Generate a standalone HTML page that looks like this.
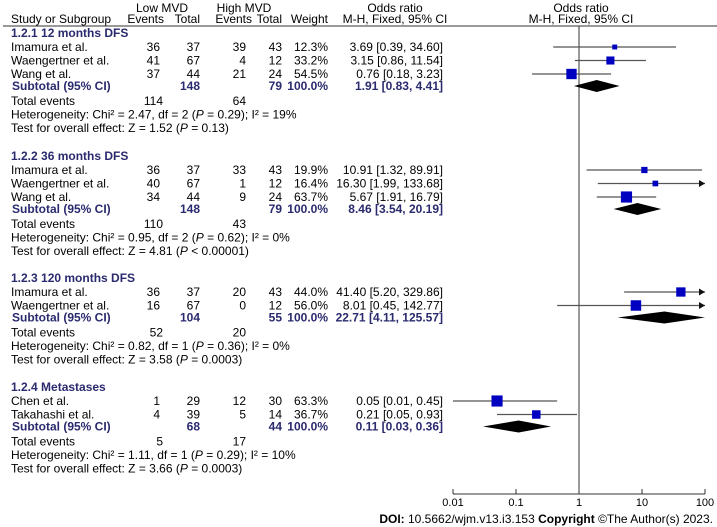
<!DOCTYPE html>
<html><head><meta charset="utf-8"><style>
body{margin:0;background:#fff;}
svg{display:block;font-family:"Liberation Sans",Arial,sans-serif;font-size:12px;}
.h{fill:#2a2a6e;font-weight:bold;}
.t{fill:#222;}
</style></head><body>
<svg id="fp" width="717" height="527" viewBox="0 0 717 527">
<g>
<text x="162" y="12" text-anchor="middle">Low MVD</text>
<text x="244" y="12" text-anchor="middle">High MVD</text>
<text x="395" y="12" text-anchor="middle">Odds ratio</text>
<text x="581" y="12" text-anchor="middle">Odds ratio</text>
<text x="11" y="23">Study or Subgroup</text>
<text x="164" y="23" text-anchor="end">Events</text>
<text x="200" y="23" text-anchor="end">Total</text>
<text x="252" y="23" text-anchor="end">Events</text>
<text x="282" y="23" text-anchor="end">Total</text>
<text x="328" y="23" text-anchor="end">Weight</text>
<text x="395" y="23" text-anchor="middle">M-H, Fixed, 95% CI</text>
<text x="581" y="23" text-anchor="middle">M-H, Fixed, 95% CI</text>
<line x1="3" y1="26" x2="717" y2="26" stroke="#333" stroke-width="1"/>
</g>
<line x1="579" y1="26" x2="579" y2="494" stroke="#333" stroke-width="1"/>
<g id="rows"></g>
<g id="axis"></g>
<text x="713" y="523" text-anchor="end"><tspan font-weight="bold">DOI:</tspan> 10.5662/wjm.v13.i3.153 <tspan font-weight="bold">Copyright</tspan> ©The Author(s) 2023.</text>
</svg>
<script>
const groupTitles=["1.2.1 12 months DFS","1.2.2 36 months DFS","1.2.3 120 months DFS","1.2.4 Metastases"];
const groupY=[33,156,278,387];
const studyNames=[["Imamura et al.","Waengertner et al.","Wang et al."],["Imamura et al.","Waengertner et al.","Wang et al."],["Imamura et al.","Waengertner et al."],["Chen et al.","Takahashi et al."]];
const lowEvents=[[36,41,37],[36,40,34],[36,16],[1,4]];
const lowTotal=[[37,67,44],[37,67,44],[37,67],[29,39]];
const highEvents=[[39,4,21],[33,1,9],[20,0],[12,5]];
const highTotal=[[43,12,24],[43,12,24],[43,12],[30,14]];
const weights=[[12.3,33.2,54.5],[19.9,16.4,63.7],[44.0,56.0],[63.3,36.7]];
const orVal=[[3.69,3.15,0.76],[10.91,16.30,5.67],[41.40,8.01],[0.05,0.21]];
const orLo=[[0.39,0.86,0.18],[1.32,1.99,1.91],[5.20,0.45],[0.01,0.05]];
const orHi=[[34.60,11.54,3.23],[89.91,133.68,16.79],[329.86,142.77],[0.45,0.93]];
const subLowTotal=[148,148,104,68];
const subHighTotal=[79,79,55,44];
const subOR=[1.91,8.46,22.71,0.11];
const subLo=[0.83,3.54,4.11,0.03];
const subHi=[4.41,20.19,125.57,0.36];
const totLow=[114,110,52,5];
const totHigh=[64,43,20,17];
const hetChi=["2.47","0.95","0.82","1.11"];
const hetDf=[2,2,1,1];
const hetP=["0.29","0.62","0.36","0.29"];
const hetI=[19,0,0,10];
const zVal=["1.52","4.81","3.58","3.66"];
const zP=["= 0.13","< 0.00001","= 0.0003","= 0.0003"];
const tickVals=[0.01,0.1,1,10,100];
const tickLabels=["0.01","0.1","1","10","100"];

const NS="http://www.w3.org/2000/svg";
const X0=453,X1=705;
function xs(v){return 579+63*Math.log10(v);}
function el(tag,attrs,parent,txt){const e=document.createElementNS(NS,tag);for(const k in attrs)e.setAttribute(k,attrs[k]);if(txt!==undefined)e.textContent=txt;parent.appendChild(e);return e;}
const rows=document.getElementById('rows');
function fmt(v){return v.toFixed(2);}
function arrow(x,y,dir,g){el('polygon',{points:`${x},${y} ${x-6*dir},${y-3.5} ${x-6*dir},${y+3.5}`,fill:'#111'},g);}
groupTitles.forEach((title,gi)=>{
  const g=el('g',{},rows);
  
  
  let y=groupY[gi];
  const ht=el('text',{x:11,y:y+4,class:'h'},g,title);
  
  
  studyNames[gi].forEach((nm,si)=>{
    const ry=y+14+13.5*si;
    const b=ry+4;
    const r=el('g',{},g);
    
    
    el('text',{x:11,y:b},r,nm);
    el('text',{x:160,y:b,'text-anchor':'end'},r,lowEvents[gi][si]);
    el('text',{x:200,y:b,'text-anchor':'end'},r,lowTotal[gi][si]);
    el('text',{x:246,y:b,'text-anchor':'end'},r,highEvents[gi][si]);
    el('text',{x:282,y:b,'text-anchor':'end'},r,highTotal[gi][si]);
    el('text',{x:328,y:b,'text-anchor':'end'},r,weights[gi][si].toFixed(1)+'%');
    el('text',{x:443,y:b,'text-anchor':'end'},r,`${fmt(orVal[gi][si])} [${fmt(orLo[gi][si])}, ${fmt(orHi[gi][si])}]`);
    let xl=xs(orLo[gi][si]),xh=xs(orHi[gi][si]);
    const cl=xl<X0,ch=xh>X1;
    xl=Math.max(X0,xl);xh=Math.min(X1,xh);
    const ci=el('line',{x1:xl,y1:ry,x2:xh,y2:ry,stroke:'#555','stroke-width':1.2},r);
    
    
    if(cl)arrow(X0,ry,-1,r);
    if(ch)arrow(X1,ry,1,r);
    const s=14*Math.sqrt(weights[gi][si]/100);
    const sq=el('rect',{x:xs(orVal[gi][si])-s/2,y:ry-s/2,width:s,height:s,fill:'#0000c0'},r);
    
    
  });
  const n=studyNames[gi].length;
  const sy=y+14+13.5*n-1.5, sb=sy+4;
  const st=el('g',{class:'h'},g);
  
  
  el('text',{x:12,y:sb},st,'Subtotal (95% CI)');
  el('text',{x:200,y:sb,'text-anchor':'end'},st,subLowTotal[gi]);
  el('text',{x:282,y:sb,'text-anchor':'end'},st,subHighTotal[gi]);
  el('text',{x:328,y:sb,'text-anchor':'end'},st,'100.0%');
  el('text',{x:443,y:sb,'text-anchor':'end'},st,`${fmt(subOR[gi])} [${fmt(subLo[gi])}, ${fmt(subHi[gi])}]`);
  const dl=Math.max(X0,xs(subLo[gi])),dh=Math.min(X1,xs(subHi[gi])),dc=xs(subOR[gi]);
  const dm=el('polygon',{points:`${dl},${sy} ${dc},${sy-6} ${dh},${sy} ${dc},${sy+6}`,fill:'#000'},g);
  
  
  const ty=sy+15, tb=ty+4;
  const te=el('g',{},g);
  
  
  el('text',{x:11,y:tb},te,'Total events');
  el('text',{x:163,y:tb,'text-anchor':'end'},te,totLow[gi]);
  el('text',{x:246,y:tb,'text-anchor':'end'},te,totHigh[gi]);
  const h=el('text',{x:11,y:tb+13.5},g);
  
  
  h.innerHTML=`Heterogeneity: Chi² = ${hetChi[gi]}, df = ${hetDf[gi]} (<tspan font-style="italic">P</tspan> = ${hetP[gi]}); I² = ${hetI[gi]}%`;
  const z=el('text',{x:11,y:tb+27},g);
  
  
  z.innerHTML=`Test for overall effect: Z = ${zVal[gi]} (<tspan font-style="italic">P</tspan> ${zP[gi]})`;
});
const ax=document.getElementById('axis');
el('line',{x1:X0,y1:494,x2:X1,y2:494,stroke:'#333','stroke-width':1},ax);
tickVals.forEach((v,i)=>{
  const tk=el('line',{x1:xs(v),y1:489,x2:xs(v),y2:494,stroke:'#333','stroke-width':1},ax);
  
  
  const tl=el('text',{x:xs(v),y:506,'text-anchor':'middle','font-size':'11'},ax,tickLabels[i]);
  
  
});
</script>
</body></html>
